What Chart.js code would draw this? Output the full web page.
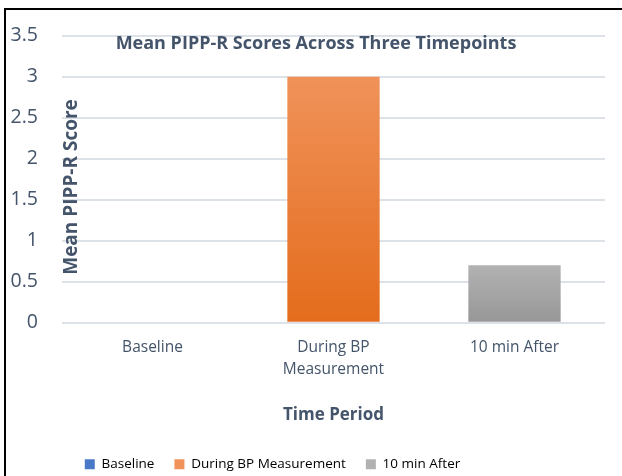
<!DOCTYPE html>
<html>
<head>
<meta charset="utf-8">
<script src="https://cdn.jsdelivr.net/npm/chart.js@4.4.1/dist/chart.umd.min.js"></script>
<style>
  html, body { margin: 0; padding: 0; background: #fff; overflow: hidden; }
  #wrap { position: relative; width: 622px; height: 476px; overflow: hidden; }
  #frame { position: absolute; left: 4px; top: 8px; right: -4px; bottom: -4px;
           border-left: 2px solid #000; border-top: 2px solid #000; pointer-events: none; }
</style>
</head>
<body>
<div id="wrap">
  <canvas id="chart" width="622" height="481"></canvas>
  <div id="frame"></div>
</div>
<script>
const categories = ['Baseline', ['During BP', 'Measurement'], '10 min After'];
const legendNames = ['Baseline', 'During BP Measurement', '10 min After'];
const meanScores = [0, 3, 0.7];
const yTicks = [0, 0.5, 1, 1.5, 2, 2.5, 3, 3.5];

const textColor = '#44546A';
const fontName = '"Open Sans", sans-serif';
const topColors = ['#4A78C8', '#F0925A', '#B2B2B2'];
const bottomColors = ['#3F69B8', '#E46C1C', '#979797'];

function barFill(ctx) {
  const chart = ctx.chart;
  const area = chart.chartArea;
  if (!area || ctx.type !== 'data') return topColors[ctx.dataIndex];
  const y = chart.scales.y;
  const top = y.getPixelForValue(ctx.raw);
  const bottom = y.getPixelForValue(0);
  if (bottom - top < 1) return topColors[ctx.dataIndex];
  const g = chart.ctx.createLinearGradient(0, top, 0, bottom);
  g.addColorStop(0, topColors[ctx.dataIndex]);
  g.addColorStop(1, bottomColors[ctx.dataIndex]);
  return g;
}

// chart title and y title sit inside the plot area in the original
const overlayText = {
  id: 'overlayText',
  beforeDraw(chart) {
    // legend in the original is a bit left of centre
    if (chart.legend && !chart.legend._shifted) {
      chart.legend.left -= 30;
      chart.legend.right -= 30;
      chart.legend._shifted = true;
    }
  },
  afterDatasetsDraw(chart) {
    const c = chart.ctx;
    c.save();
    c.fillStyle = textColor;
    c.textAlign = 'center';
    c.textBaseline = 'middle';
    c.font = 'bold 18px ' + fontName;
    c.fillText('Mean PIPP-R Scores Across Three Timepoints', 316, 44);
    c.translate(72, 187);
    c.rotate(-Math.PI / 2);
    c.font = 'bold 19px ' + fontName;
    c.fillText('Mean PIPP-R Score', 0, 0);
    c.restore();
  }
};

new Chart(document.getElementById('chart').getContext('2d'), {
  type: 'bar',
  data: {
    labels: categories,
    datasets: [{
      data: meanScores,
      backgroundColor: barFill,
      borderWidth: 0,
      categoryPercentage: 1,
      barPercentage: 0.51
    }]
  },
  options: {
    responsive: false,
    animation: false,
    layout: { padding: { top: 33, right: 17, bottom: 0, left: 0 } },
    scales: {
      y: {
        min: 0,
        max: 3.5,
        afterFit(scale) { scale.width = 62; },
        afterBuildTicks(scale) { scale.ticks = yTicks.map(v => ({ value: v })); },
        border: { display: false },
        grid: { color: '#DDE2E8', lineWidth: 2, drawTicks: false },
        ticks: {
          padding: 24,
          color: textColor,
          font: { family: fontName, size: 19.5 },
          callback: v => String(v)
        }
      },
      x: {
        border: { display: false },
        grid: { display: false, drawTicks: false },
        ticks: {
          padding: 14,
          color: textColor,
          maxRotation: 0,
          font: { family: fontName, size: 15.5, lineHeight: 1.4 }
        },
        title: {
          display: true,
          text: 'Time Period',
          color: textColor,
          font: { family: fontName, size: 17, weight: 'bold' },
          padding: { top: 11, bottom: 12 }
        }
      }
    },
    plugins: {
      title: { display: false },
      tooltip: { enabled: false },
      legend: {
        position: 'bottom',
        labels: {
          color: textColor,
          font: { family: fontName, size: 13.5 },
          boxWidth: 10,
          boxHeight: 10,
          padding: 20,
          generateLabels() {
            return legendNames.map((name, i) => ({
              text: name,
              fillStyle: topColors[i],
              strokeStyle: topColors[i],
              lineWidth: 0,
              index: i
            }));
          }
        }
      }
    }
  },
  plugins: [overlayText]
});
</script>
</body>
</html>
